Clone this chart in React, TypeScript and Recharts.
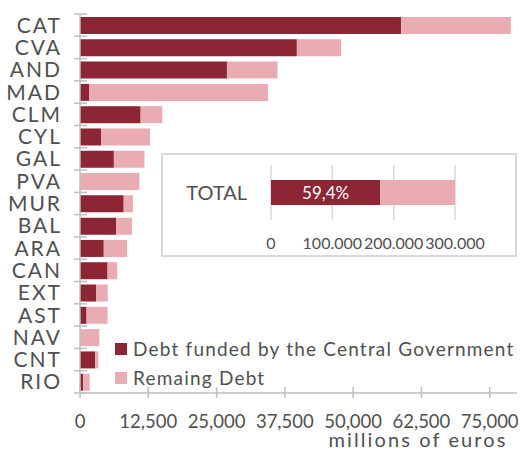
import React from 'react';
import { BarChart, Bar, XAxis, YAxis, CartesianGrid, Legend, LabelList } from 'recharts';

const regions = ['CAT', 'CVA', 'AND', 'MAD', 'CLM', 'CYL', 'GAL', 'PVA', 'MUR', 'BAL', 'ARA', 'CAN', 'EXT', 'AST', 'NAV', 'CNT', 'RIO'];
const fundedByCentral = [58800, 39700, 26900, 1650, 11100, 3900, 6200, 0, 8000, 6600, 4350, 5050, 3000, 1200, 0, 2800, 550];
const remainingDebt = [20060, 8100, 9250, 32770, 3960, 8900, 5600, 10860, 1700, 2930, 4270, 1770, 2080, 3850, 3540, 560, 1220];
const xTicks = [0, 12500, 25000, 37500, 50000, 62500, 75000];

const totalCategory = ['TOTAL'];
const totalFunded = [178200];
const totalRemaining = [121800];
const totalTicks = [0, 100000, 200000, 300000];

const seriesNames = ['Debt funded by the Central Government', 'Remaing Debt'];
const axisTitle = 'millions of euros';

const DARK = '#8C2534';
const PINK = '#E9ACB3';
const AXIS = '#BFBFBF';
const GRID = '#D9D9D9';
const TEXT = '#505050';
const FONT = 'Lato, "DejaVu Sans", sans-serif';

const mainData = regions.map((r, i) => ({ region: r, funded: fundedByCentral[i], remaining: remainingDebt[i] }));
const totalData = totalCategory.map((c, i) => ({
  name: c,
  funded: totalFunded[i],
  remaining: totalRemaining[i],
  pct: ((totalFunded[i] / (totalFunded[i] + totalRemaining[i])) * 100).toFixed(1).replace('.', ',') + '%',
}));

const PLOT_TOP = 14;
const X_HEIGHT = 57;
const CH = 450;
const band = (CH - PLOT_TOP - X_HEIGHT) / regions.length;

const YTick = (props: any) => {
  const { x, y, payload, index } = props;
  const top = y - band / 2;
  return (
    <g>
      <line x1={x - 6} x2={x + 7} y1={top} y2={top} stroke={AXIS} strokeWidth={1.5} />
      {index === regions.length - 1 && (
        <line x1={x - 6} x2={x + 7} y1={top + band} y2={top + band} stroke={AXIS} strokeWidth={1.5} />
      )}
      <text
        x={x - 18}
        y={y}
        dy="0.36em"
        textAnchor="end"
        fill={TEXT}
        fontSize={21}
        letterSpacing={2}
        fontFamily={FONT}
      >
        {payload.value}
      </text>
    </g>
  );
};

const XTick = (props: any) => {
  const { x, y, payload } = props;
  return (
    <g>
      <line x1={x} x2={x} y1={y - 6} y2={y + 5} stroke={AXIS} strokeWidth={1.5} />
      <text x={x} y={y + 35} textAnchor="middle" fill={TEXT} fontSize={18.5} fontFamily={FONT}>
        {Number(payload.value).toLocaleString('en-US')}
      </text>
    </g>
  );
};

const TotalXTick = (props: any) => {
  const { x, y, payload } = props;
  return (
    <text x={x} y={y + 29} textAnchor="middle" fill={TEXT} fontSize={16} fontFamily={FONT}>
      {Number(payload.value).toLocaleString('en-US').replace(/,/g, '.')}
    </text>
  );
};

const TotalYTick = (props: any) => {
  const { x, y, payload } = props;
  return (
    <text x={x - 24} y={y} dy="0.36em" textAnchor="end" fill={TEXT} fontSize={20} fontFamily={FONT}>
      {payload.value}
    </text>
  );
};

const renderLegend = (props: any) => {
  const { payload } = props;
  return (
    <div style={{ fontFamily: FONT, fontSize: 19, letterSpacing: 1.2, color: TEXT }}>
      {(payload || []).map((p: any, i: number) => (
        <div key={i} style={{ display: 'flex', alignItems: 'center', height: 29, whiteSpace: 'nowrap' }}>
          <span style={{ display: 'inline-block', width: 12, height: 12, background: p.color, marginRight: 6 }} />
          <span>{p.value}</span>
        </div>
      ))}
    </div>
  );
};

export default function App() {
  return (
    <div style={{ position: 'absolute', left: 0, top: 0, width: 520, height: 450, background: '#fff' }}>
      <BarChart
        layout="vertical"
        width={520}
        height={CH}
        data={mainData}
        margin={{ top: PLOT_TOP, right: 3, bottom: 0, left: 0 }}
        barSize={17}
      >
        <XAxis
          type="number"
          domain={[0, 80000]}
          ticks={xTicks}
          interval={0}
          height={X_HEIGHT}
          axisLine={{ stroke: AXIS, strokeWidth: 1.5 }}
          tickLine={false}
          tickSize={0}
          tickMargin={0}
          tick={<XTick />}
          label={{
            content: () => (
              <text
                x={418}
                y={447}
                textAnchor="middle"
                fill={TEXT}
                fontSize={20}
                letterSpacing={2.1}
                fontFamily={FONT}
              >
                {axisTitle}
              </text>
            ),
          }}
        />
        <YAxis
          type="category"
          dataKey="region"
          width={80}
          interval={0}
          axisLine={{ stroke: AXIS, strokeWidth: 1.5 }}
          tickLine={false}
          tickSize={0}
          tickMargin={0}
          tick={<YTick />}
        />
        <Bar dataKey="funded" name={seriesNames[0]} stackId="a" fill={DARK} isAnimationActive={false} />
        <Bar dataKey="remaining" name={seriesNames[1]} stackId="a" fill={PINK} isAnimationActive={false} />
        <Legend
          layout="vertical"
          align="center"
          verticalAlign="middle"
          content={renderLegend}
          wrapperStyle={{ left: 115, top: 334, width: 410 }}
        />
      </BarChart>

      <div
        style={{
          position: 'absolute',
          left: 161,
          top: 153,
          width: 356,
          height: 104,
          border: `2px solid ${GRID}`,
          boxSizing: 'border-box',
          background: '#fff',
        }}
      >
        <BarChart
          layout="vertical"
          width={352}
          height={100}
          data={totalData}
          margin={{ top: 10, right: 60, bottom: 0, left: 0 }}
          barSize={25}
        >
          <CartesianGrid horizontal={false} vertical stroke={GRID} strokeWidth={1.5} />
          <XAxis
            type="number"
            domain={[0, 300000]}
            allowDataOverflow
            ticks={totalTicks}
            interval={0}
            height={35}
            axisLine={false}
            tickLine={false}
            tickSize={0}
            tickMargin={0}
            tick={<TotalXTick />}
          />
          <YAxis
            type="category"
            dataKey="name"
            width={108}
            axisLine={false}
            tickLine={false}
            tickSize={0}
            tickMargin={0}
            tick={<TotalYTick />}
          />
          <Bar dataKey="funded" stackId="t" fill={DARK} isAnimationActive={false}>
            <LabelList dataKey="pct" position="center" fill="#ffffff" fontSize={17} fontFamily={FONT} />
          </Bar>
          <Bar dataKey="remaining" stackId="t" fill={PINK} isAnimationActive={false} />
        </BarChart>
      </div>
    </div>
  );
}
